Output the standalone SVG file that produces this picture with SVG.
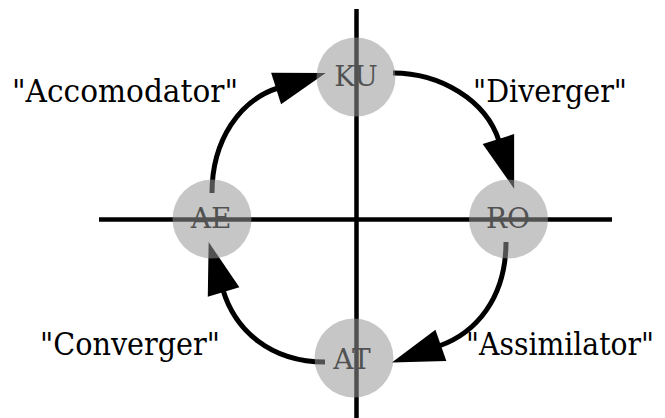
<svg xmlns="http://www.w3.org/2000/svg" width="665" height="418" viewBox="0 0 665 418">
<style>
.axis{stroke:#000;stroke-width:4.5;fill:none}
.edge{stroke:#000;stroke-width:5;fill:none;marker-end:url(#ah)}
.node circle{fill:#959595;fill-opacity:0.54}
.node text{font-family:'DejaVu Serif',serif;font-size:28px;fill:#000;text-anchor:middle}
.lbl{font-family:'DejaVu Serif',serif;font-size:32px;fill:#000}
</style>
<defs>
<marker id="ah" markerUnits="userSpaceOnUse" markerWidth="54" markerHeight="34" refX="2" refY="16.5" orient="auto" overflow="visible">
<path d="M0,0 L52,16.5 L0,33 z" fill="#000"/>
</marker>
</defs>
<rect width="665" height="418" fill="#fff"/>
<g id="axes">
<line class="axis" x1="356.5" y1="9" x2="356.5" y2="418"/>
<line class="axis" x1="99" y1="219.5" x2="612" y2="219.5"/>
</g>
<g id="connectors">
<path class="edge" d="M393,73 C440,73 486,100 499,141"/>
<path class="edge" d="M506,242 C506,298 476,333 439,346"/>
<path class="edge" d="M325,362 C270,362 235,330 223,290"/>
<path class="edge" d="M212,193 C212,140 240,100 278,88"/>
</g>
<g id="KU" class="node"><text x="356" y="86">KU</text><circle cx="356" cy="77" r="39.5"/></g>
<g id="AE" class="node"><text x="211" y="228">AE</text><circle cx="212" cy="219" r="39.5"/></g>
<g id="RO" class="node"><text x="508" y="228">RO</text><circle cx="508.5" cy="219" r="39.5"/></g>
<g id="AT" class="node"><text x="352" y="369">AT</text><circle cx="354" cy="358" r="39.5"/></g>
<g id="labels">
<text class="lbl" x="12" y="102" textLength="226" lengthAdjust="spacingAndGlyphs">"Accomodator"</text>
<text class="lbl" x="473" y="102" textLength="154" lengthAdjust="spacingAndGlyphs">"Diverger"</text>
<text class="lbl" x="40" y="355" textLength="180" lengthAdjust="spacingAndGlyphs">"Converger"</text>
<text class="lbl" x="466" y="355" font-size="28" textLength="188" lengthAdjust="spacingAndGlyphs">"Assimilator"</text>
</g>
</svg>
